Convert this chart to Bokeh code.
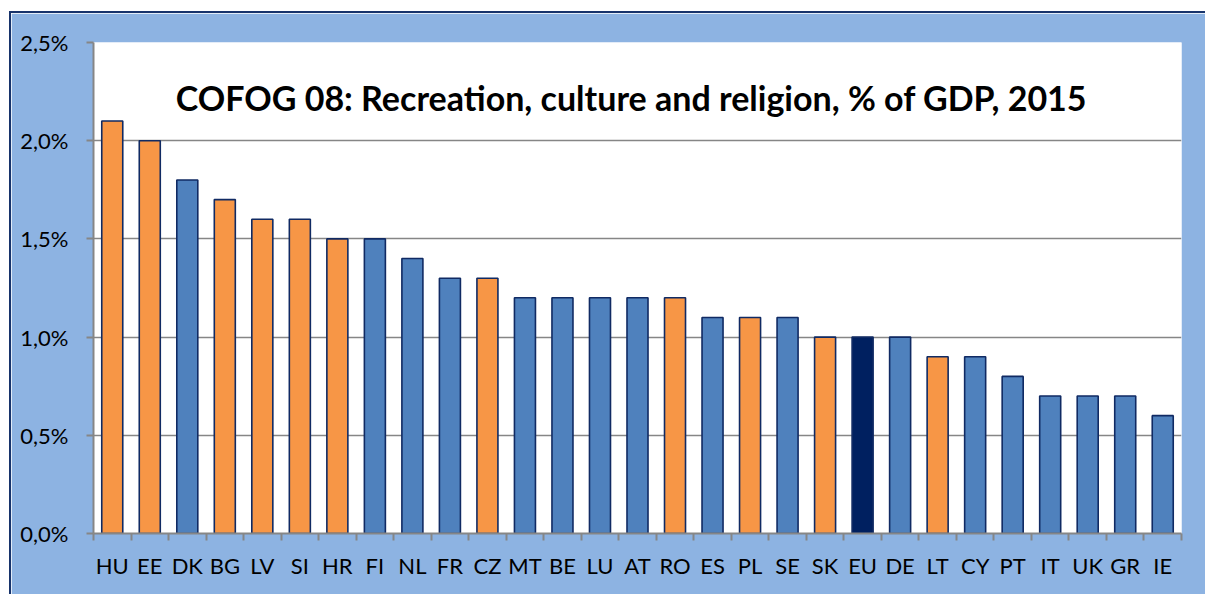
from bokeh.plotting import figure
from bokeh.models import Range1d, FixedTicker, Label, ColumnDataSource
from bokeh.embed import file_html
from bokeh.resources import INLINE

# ---- data ----
countries = ["HU", "EE", "DK", "BG", "LV", "SI", "HR", "FI", "NL", "FR", "CZ", "MT", "BE", "LU", "AT",
             "RO", "ES", "PL", "SE", "SK", "EU", "DE", "LT", "CY", "PT", "IT", "UK", "GR", "IE"]
values = [2.1, 2.0, 1.8, 1.7, 1.6, 1.6, 1.5, 1.5, 1.4, 1.3, 1.3, 1.2, 1.2, 1.2, 1.2,
          1.2, 1.1, 1.1, 1.1, 1.0, 1.0, 1.0, 0.9, 0.9, 0.8, 0.7, 0.7, 0.7, 0.6]
group = ["o", "o", "b", "o", "o", "o", "o", "b", "b", "b", "o", "b", "b", "b", "b",
         "o", "b", "o", "b", "o", "eu", "b", "o", "b", "b", "b", "b", "b", "b"]
y_ticks = [0.0, 0.5, 1.0, 1.5, 2.0, 2.5]
y_tick_labels = ["0,0%", "0,5%", "1,0%", "1,5%", "2,0%", "2,5%"]
title_text = "COFOG 08: Recreation, culture and religion, % of GDP, 2015"

palette = {"o": "#F79646", "b": "#4F81BD", "eu": "#002060"}
FONT = "Lato"

n = len(countries)
xs = [i + 0.5 for i in range(n)]
src = ColumnDataSource(dict(x=xs, top=values, name=countries,
                            color=[palette[g] for g in group]))

p = figure(width=1196, height=583, output_backend="svg", toolbar_location=None,
           x_range=Range1d(0, n), y_range=Range1d(0, 2.5),
           min_border_left=82, min_border_right=26, min_border_top=29, min_border_bottom=63)
p.styles = {"margin-left": "9px", "margin-top": "11px",
            "border-left": "2px solid #17336b", "border-top": "2px solid #17336b"}

p.background_fill_color = "white"
p.border_fill_color = "#8DB3E2"
p.outline_line_color = None

p.vbar(x="x", top="top", width=0.56, bottom=0, source=src,
       fill_color="color", line_color="#102a63", line_width=1.6)

# y axis
yt = FixedTicker(ticks=y_ticks)
p.yaxis.ticker = yt
p.yaxis.major_label_overrides = {t: l for t, l in zip(y_ticks, y_tick_labels)}
p.yaxis.major_label_text_font = FONT
p.yaxis.major_label_text_font_size = "22px"
p.yaxis.major_label_text_color = "black"
p.yaxis.major_label_standoff = 18
p.yaxis.major_tick_out = 7
p.yaxis.major_tick_in = 0
p.yaxis.minor_tick_out = 0
p.yaxis.minor_tick_in = 0
p.yaxis.axis_line_color = "#868686"
p.yaxis.axis_line_width = 2
p.yaxis.major_tick_line_color = "#868686"
p.yaxis.major_tick_line_width = 2

# x axis: labels at centers, tick marks at category boundaries
xt = FixedTicker(ticks=xs, minor_ticks=list(range(n + 1)))
p.xaxis.ticker = xt
p.xaxis.major_label_overrides = {x: c for x, c in zip(xs, countries)}
p.xaxis.major_label_text_font = FONT
p.xaxis.major_label_text_font_size = "22px"
p.xaxis.major_label_text_color = "black"
p.xaxis.major_label_standoff = 11
p.xaxis.major_tick_out = 0
p.xaxis.major_tick_in = 0
p.xaxis.minor_tick_out = 7
p.xaxis.minor_tick_in = 0
p.xaxis.minor_tick_line_color = "#868686"
p.xaxis.minor_tick_line_width = 2
p.xaxis.axis_line_color = "#868686"
p.xaxis.axis_line_width = 2

p.xgrid.visible = False
p.ygrid.ticker = yt
p.ygrid.grid_line_color = "#868686"
p.ygrid.grid_line_width = 1.6

title = Label(x=n / 2 - 0.16, y=2.22, text=title_text, text_font=FONT,
              text_font_style="bold", text_font_size="34px", text_color="black",
              text_align="center", text_baseline="middle")
p.add_layout(title)

open("out.html", "w").write(file_html(p, INLINE))
